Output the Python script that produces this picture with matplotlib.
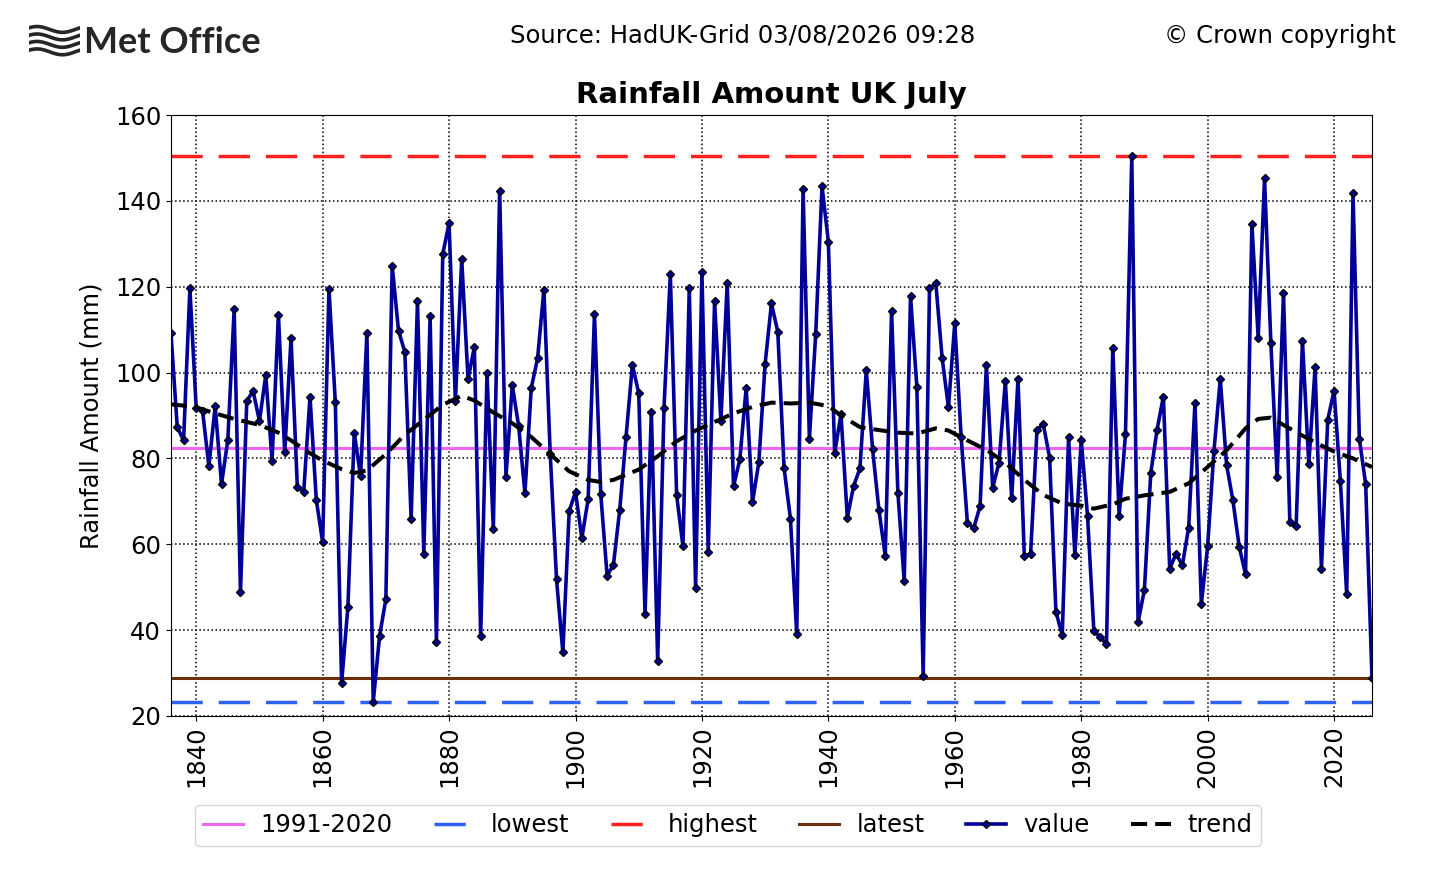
import matplotlib
matplotlib.use('Agg')
import matplotlib.pyplot as plt
import numpy as np

# July UK rainfall (mm), HadUK-Grid, 1836-2026
first_year = 1836
values = [
    109.3, 87.3, 84.2, 119.6, 91.7, 91.1, 78.2, 92.1, 74.0, 84.3,
    114.7, 48.8, 93.4, 95.7, 88.7, 99.4, 79.5, 113.5, 81.4, 108.0,
    73.3, 72.1, 94.4, 70.3, 60.5, 119.5, 93.2, 27.7, 45.5, 86.0,
    75.8, 109.3,
    23.2, 38.6, 47.2, 124.9, 109.8, 104.8, 65.9, 116.6, 57.8, 113.1,
    37.3, 127.6, 134.8, 93.4, 126.4, 98.4, 106.0, 38.7, 99.8, 63.5,
    142.4, 75.7, 97.1, 87.6, 71.9, 96.4, 103.3, 119.3, 81.1, 51.8,
    34.8, 67.7,
    72.2, 61.4, 70.5, 113.6, 71.6, 52.7, 55.2, 68.1, 85.1, 101.8,
    95.2, 43.7, 90.9, 32.8, 91.7, 122.9, 71.4, 59.5, 119.7, 49.7,
    123.4, 58.3, 116.6, 88.7, 120.9, 73.5, 79.8, 96.5, 69.8, 79.1,
    102.1,
    116.1, 109.5, 77.7, 66.0, 39.0, 142.7, 84.6, 109.0, 143.4, 130.5,
    81.3, 90.3, 66.2, 73.6, 77.7, 100.5, 82.1, 68.0, 57.3, 114.3,
    72.0, 51.4, 117.8, 96.7, 29.3, 119.6, 120.8, 103.4, 91.9, 111.5,
    85.1, 64.9,
    63.8, 68.9, 101.7, 73.2, 79.0, 98.0, 70.7, 98.5, 57.3, 57.8,
    86.6, 88.0, 80.2, 44.3, 38.8, 84.9, 57.4, 84.4, 66.6, 39.8,
    38.4, 36.7, 105.7, 66.6, 85.6, 150.5, 41.9, 49.4, 76.5, 86.7,
    94.4, 54.3,
    57.8, 55.1, 63.9, 93.0, 46.0, 59.6, 81.7, 98.5, 78.5, 70.2,
    59.4, 53.0, 134.6, 108.1, 145.3, 107.0, 75.7, 118.6, 65.3, 64.2,
    107.4, 78.6, 101.2, 54.2, 89.0, 95.8, 74.7, 48.4, 141.8, 84.6,
    74.0, 28.8,
]
years = np.arange(first_year, first_year + len(values))

# smoothed trend
trend_years = [1836, 1838, 1840, 1843, 1846, 1850, 1853, 1855, 1858, 1860,
               1863, 1865, 1867, 1870, 1873, 1876, 1879, 1882, 1884, 1887,
               1890, 1893, 1896, 1899, 1902, 1904, 1906, 1910, 1913, 1916,
               1919, 1922, 1925, 1928, 1931, 1934, 1937, 1940, 1942, 1945,
               1948, 1951, 1954, 1957, 1959, 1962, 1965, 1968, 1971, 1974,
               1977, 1980, 1982, 1985, 1987, 1990, 1994, 1997, 2000, 2003,
               2006, 2008, 2010, 2012, 2015, 2018, 2020, 2023, 2026]
trend_vals = [92.6, 92.3, 91.9, 90.5, 89.2, 87.8, 86.0, 84.2, 81.2, 79.5,
              77.5, 76.6, 77.2, 81.0, 85.5, 89.0, 92.5, 94.6, 93.5, 90.7,
              88.2, 85.0, 81.0, 77.0, 75.0, 74.5, 75.0, 77.4, 80.5, 84.0,
              86.5, 88.5, 90.5, 92.0, 93.0, 92.8, 93.0, 92.2, 90.0, 87.3,
              86.6, 86.0, 85.8, 87.0, 86.5, 84.2, 82.0, 79.0, 75.0, 71.5,
              69.5, 69.0, 68.3, 69.3, 70.6, 71.4, 72.2, 74.2, 78.0, 81.9,
              87.0, 89.2, 89.5, 87.8, 85.3, 83.0, 81.6, 80.0, 78.0]

vals = np.array(values)
avg = vals[(years >= 1991) & (years <= 2020)].mean()
lowest = vals.min()
highest = vals.max()
latest = vals[-1]

plt.rcParams['font.size'] = 17.5

fig = plt.figure(figsize=(14.56, 8.74), dpi=100)
ax = fig.add_axes([0.1174, 0.1808, 0.8249, 0.6876])

long_dash = (0, (9, 4.6))
ax.axhline(avg, color='#f266f2', lw=2.2, label='1991-2020')
ax.axhline(lowest, color='#2f62f0', lw=2.5, ls=long_dash, label='lowest')
ax.axhline(highest, color='#ff2020', lw=2.5, ls=long_dash, label='highest')
ax.axhline(latest, color='#6b2f0a', lw=2.2, label='latest')
ax.plot(years, vals, color='#000099', lw=2.6, marker='D', markersize=4.5,
        markerfacecolor='#000099', markeredgecolor='black', markeredgewidth=1.0,
        label='value')
ax.plot(trend_years, trend_vals, color='black', lw=2.9, ls=(0, (4, 2)),
        label='trend')

ax.set_xlim(1836, 2026)
ax.set_ylim(20, 160)
ax.set_xticks(np.arange(1840, 2021, 20))
ax.set_yticks(np.arange(20, 161, 20))
ax.tick_params(axis='x', labelrotation=90)
ax.grid(True, color='black', ls=':', lw=1.1)
ax.set_ylabel('Rainfall Amount (mm)', labelpad=8)
ax.set_title('Rainfall Amount UK July', fontweight='bold', pad=9)

fig.legend(loc='center', bbox_to_anchor=(0.5, 0.056), ncol=6, numpoints=1,
           handlelength=1.65, handletextpad=0.7, columnspacing=1.7, borderpad=0.35)

fig.text(0.51, 0.959, 'Source: HadUK-Grid 03/08/2026 09:28', ha='center', va='center')
fig.text(0.959, 0.959, '\u00a9 Crown copyright', ha='right', va='center')

# Met Office logo: wave mark + wordmark
logo = fig.add_axes([0.02, 0.935, 0.035, 0.037])
t = np.linspace(0, 1, 100)
for k in range(4):
    logo.plot(t, k * 0.9 + 0.35 * np.sin(2 * np.pi * t + 0.6), color='#262626', lw=2.6)
logo.set_xlim(0, 1)
logo.set_ylim(-0.6, 3.3)
logo.axis('off')
fig.text(0.058, 0.951, 'Met Office', family='Lato', fontweight='bold', fontsize=26,
         color='#262626', ha='left', va='center')

fig.savefig('out.png', dpi=100)
